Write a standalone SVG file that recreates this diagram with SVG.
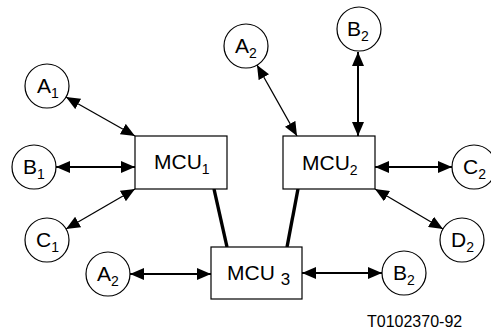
<svg xmlns="http://www.w3.org/2000/svg" width="491" height="329" viewBox="0 0 491 329">
<style>
  .node circle, .node rect { fill: #fff; stroke: #000; stroke-width: 1.2; }
  text { font-family: "Liberation Sans", Arial, sans-serif; fill: #000; }
  .lbl { font-size: 21px; }
  .sub { font-size: 14px; }
  .arrow { stroke: #000; fill: none; marker-start: url(#ah); marker-end: url(#ah); }
  .thin { stroke-width: 1.3; }
  .thick { stroke-width: 2; }
  .link { stroke: #000; stroke-width: 3.4; fill: none; }
</style>
<defs>
  <marker id="ah" viewBox="0 0 14 12" refX="14" refY="6" markerWidth="14" markerHeight="12" markerUnits="userSpaceOnUse" orient="auto-start-reverse">
    <path d="M0,0 L14,6 L0,12 Z" fill="#000"/>
  </marker>
</defs>
<rect width="491" height="329" fill="#fff"/>
<g id="connectors">
  <line class="arrow thin" x1="66" y1="97" x2="135" y2="136"/>
  <line class="arrow thick" x1="56" y1="167" x2="135" y2="167"/>
  <line class="arrow thin" x1="66" y1="229" x2="135" y2="189"/>
  <line class="arrow thin" x1="257" y1="65" x2="297" y2="136"/>
  <line class="arrow thick" x1="358" y1="52" x2="358" y2="136"/>
  <line class="arrow thick" x1="375" y1="167" x2="452" y2="167"/>
  <line class="arrow thin" x1="375" y1="189" x2="443" y2="229"/>
  <line class="arrow thick" x1="130" y1="274" x2="211" y2="274"/>
  <line class="arrow thick" x1="302" y1="273" x2="382" y2="273"/>
  <line class="link" x1="214" y1="189" x2="227" y2="247"/>
  <line class="link" x1="298" y1="189" x2="287" y2="247"/>
</g>
<g id="mcu1" class="node">
  <rect x="135" y="136" width="92" height="53"/>
  <text class="lbl" x="154" y="169">MCU<tspan class="sub" dy="5">1</tspan></text>
</g>
<g id="mcu2" class="node">
  <rect x="283" y="136" width="92" height="53"/>
  <text class="lbl" x="302" y="170">MCU<tspan class="sub" dy="5">2</tspan></text>
</g>
<g id="mcu3" class="node">
  <rect x="211" y="247" width="91" height="52"/>
  <text class="lbl" x="227" y="280">MCU <tspan style="font-size:17px" dy="5">3</tspan></text>
</g>
<g id="a1" class="node">
  <circle cx="47" cy="86" r="22"/>
  <text class="lbl" x="37" y="93">A<tspan class="sub" dy="5">1</tspan></text>
</g>
<g id="b1" class="node">
  <circle cx="34" cy="167" r="22"/>
  <text class="lbl" x="23" y="174">B<tspan class="sub" dy="5">1</tspan></text>
</g>
<g id="c1" class="node">
  <circle cx="47" cy="240" r="22"/>
  <text class="lbl" x="36" y="247">C<tspan class="sub" dy="5">1</tspan></text>
</g>
<g id="a2top" class="node">
  <circle cx="246" cy="46" r="22"/>
  <text class="lbl" x="235" y="53">A<tspan class="sub" dy="5">2</tspan></text>
</g>
<g id="b2top" class="node">
  <circle cx="359" cy="29" r="22"/>
  <text class="lbl" x="347" y="36">B<tspan class="sub" dy="5">2</tspan></text>
</g>
<g id="c2" class="node">
  <circle cx="474" cy="167" r="22"/>
  <text class="lbl" x="463" y="174">C<tspan class="sub" dy="5">2</tspan></text>
</g>
<g id="d2" class="node">
  <circle cx="462" cy="240" r="22"/>
  <text class="lbl" x="451" y="247">D<tspan class="sub" dy="5">2</tspan></text>
</g>
<g id="a2bot" class="node">
  <circle cx="108" cy="274" r="22"/>
  <text class="lbl" x="97" y="281">A<tspan class="sub" dy="5">2</tspan></text>
</g>
<g id="b2bot" class="node">
  <circle cx="404" cy="273" r="22"/>
  <text class="lbl" x="393" y="280">B<tspan class="sub" dy="5">2</tspan></text>
</g>
<text x="367" y="327" style="font-size:16px">T0102370-92</text>
</svg>
